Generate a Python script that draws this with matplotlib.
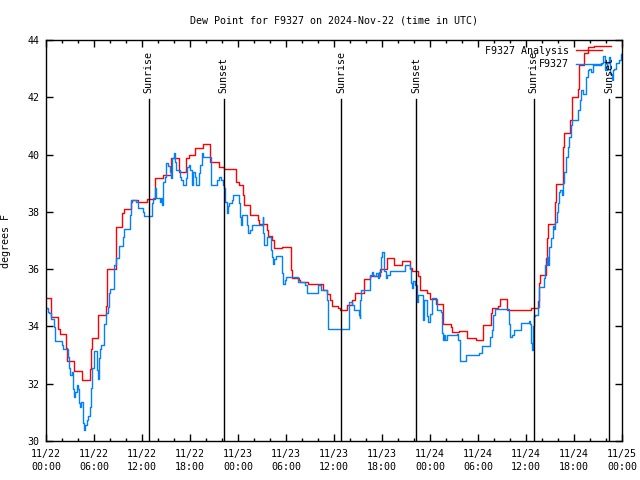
import matplotlib
matplotlib.use('Agg')
import matplotlib.pyplot as plt
import matplotlib.dates as mdates
import numpy as np
from datetime import datetime, timedelta

# hours since 2024-11-22 00:00 UTC, dew point in degrees F
ana_hours = [0.00, 0.63, 1.51, 1.76, 2.51, 2.63, 3.51, 4.52, 5.52, 5.64, 5.68, 6.49, 7.49, 7.56, 7.65,
             8.74, 9.53, 9.70, 10.54, 10.70, 11.45, 12.63, 13.55, 14.59, 15.64, 16.60, 17.52, 17.85,
             18.57, 19.61, 20.53, 21.58, 22.24, 23.71, 24.09, 24.55, 24.75, 25.50, 26.51, 26.63,
             27.56, 27.76, 28.19, 28.48, 29.44, 30.57, 30.77, 31.61, 31.74, 32.78, 34.66, 35.09,
             35.50, 35.79, 36.54, 36.75, 37.60, 38.22, 38.64, 39.68, 40.52, 41.77, 42.61, 43.44,
             44.50, 45.45, 45.75, 46.45, 46.70, 47.63, 48.04, 48.67, 49.64, 50.55, 50.77, 51.59,
             52.65, 53.69, 54.60, 55.57, 55.78, 56.49, 56.74, 57.66, 60.59, 61.50, 61.65, 61.75,
             62.47, 62.60, 62.76, 63.60, 63.73, 64.57, 64.77, 65.52, 65.69, 66.45, 66.65, 67.28,
             67.70, 68.53, 70.62]
ana_vals = [35.0, 34.33, 33.9, 33.74, 33.25, 32.8, 32.45, 32.13, 32.5, 33.2, 33.6, 34.4, 34.7, 35.3, 36.0,
            37.46, 37.95, 38.09, 38.33, 38.4, 38.33, 38.44, 39.17, 39.29, 39.87, 39.4, 39.87, 40.0,
            40.24, 40.36, 39.73, 39.58, 39.49, 39.03, 38.94, 38.59, 38.24, 37.9, 37.72, 37.58,
            37.37, 37.17, 37.02, 36.73, 36.78, 35.97, 35.7, 35.62, 35.56, 35.48, 35.27, 35.13,
            34.92, 34.71, 34.63, 34.57, 34.75, 34.92, 35.16, 35.65, 35.76, 36.0, 36.38, 36.15,
            36.3, 36.03, 35.95, 35.77, 35.27, 35.18, 34.95, 34.78, 34.09, 33.97, 33.82, 33.85,
            33.59, 33.53, 34.05, 34.46, 34.63, 34.71, 34.95, 34.57, 34.63, 34.9, 35.5, 35.8,
            36.38, 37.1, 37.58, 38.33, 38.97, 40.28, 40.74, 41.2, 42.02, 42.3, 43.13, 43.53,
            43.76, 43.8, 43.8]

obs_hours = [0.00, 0.16, 0.38, 0.59, 1.00, 1.13, 1.97, 2.13, 2.67, 2.80, 2.97, 3.22, 3.30, 3.47, 3.64,
             3.80, 3.98, 4.05, 4.23, 4.39, 4.55, 4.73, 4.89, 5.06, 5.23, 5.48, 5.61, 5.73, 5.93,
             6.31, 6.44, 6.56, 6.77, 6.90, 7.28, 7.49, 7.69, 7.82, 7.99, 8.53, 8.74, 9.15, 9.57,
             9.70, 10.45, 10.63, 11.25, 11.45, 12.08, 12.21, 13.21, 13.33, 13.55, 13.67, 14.17,
             14.39, 14.46, 14.59, 14.80, 15.02, 15.22, 15.43, 15.64, 15.77, 15.97, 16.14, 16.27,
             16.68, 16.90, 17.10, 17.52, 17.65, 17.85, 18.03, 18.19, 18.35, 18.57, 18.78, 19.10,
             19.28, 19.44, 19.61, 20.66, 21.41, 21.61, 21.83, 22.04, 22.20, 22.37, 22.54, 22.67,
             22.87, 23.17, 23.37, 24.12, 24.21, 24.34, 24.50, 25.05, 25.25, 25.46, 25.68, 27.06,
             27.13, 27.26, 27.63, 28.10, 28.22, 28.31, 28.51, 28.73, 29.44, 29.57, 29.82, 29.98,
             31.52, 32.36, 32.58, 34.03, 34.37, 35.09, 35.29, 37.85, 38.22, 38.42, 39.05, 39.17,
             39.26, 39.39, 40.52, 40.73, 40.85, 41.02, 41.27, 41.43, 41.65, 41.86, 41.99, 42.28,
             42.44, 42.61, 42.94, 44.82, 45.54, 45.66, 45.79, 45.87, 46.16, 46.38, 46.50, 47.13,
             47.29, 47.63, 47.76, 47.92, 48.26, 48.67, 48.89, 49.30, 49.42, 49.55, 49.71, 49.92,
             50.14, 51.39, 51.52, 51.68, 52.47, 54.10, 54.53, 55.53, 55.78, 55.91, 56.07, 57.87,
             57.99, 58.20, 58.49, 59.42, 60.38, 60.50, 60.59, 60.68, 60.80, 60.93, 61.09, 61.50,
             61.63, 62.26, 62.39, 62.60, 62.69, 62.81, 62.89, 63.10, 63.32, 63.44, 63.60, 63.86,
             64.02, 64.14, 64.27, 64.44, 64.57, 64.69, 64.99, 65.24, 65.42, 65.58, 65.79, 66.50,
             66.71, 66.84, 67.06, 67.46, 67.70, 67.90, 68.11, 68.32, 69.36, 69.57, 69.89, 70.11,
             70.32, 70.52, 70.70, 70.86, 71.03, 71.28, 71.46, 71.66, 71.87, 72.00]
obs_vals = [34.63, 34.5, 34.46, 34.25, 33.99, 33.49, 33.35, 33.2, 32.94, 32.54, 32.3, 32.4, 31.8, 31.55, 31.7,
            31.96, 31.8, 31.32, 31.2, 31.35, 30.64, 30.38, 30.56, 30.73, 30.88, 31.2, 31.84, 32.54, 33.15,
            32.48, 32.15, 32.9, 33.21, 33.35, 34.1, 34.46, 34.69, 35.16, 35.3, 36.15, 36.38, 36.8, 37.13,
            37.39, 37.89, 38.41, 38.35, 38.12, 38.0, 37.86, 38.3, 38.47, 38.82, 38.47, 38.35,
            38.47, 38.24, 39.05, 39.23, 39.7, 39.6, 39.4, 39.17, 39.87, 40.04, 39.75, 39.46,
            39.23, 39.1, 38.94, 39.17, 39.58, 39.64, 39.46, 38.94, 39.4, 39.23, 38.94, 39.35,
            39.64, 40.04, 39.93, 38.94, 39.1, 39.23, 39.1, 38.94, 38.82, 38.36, 37.95, 38.2,
            38.3, 38.4, 38.59, 38.3, 37.83, 37.54, 37.89, 37.54, 37.25, 37.37, 37.54, 37.83,
            37.25, 36.84, 37.13, 36.67, 36.43, 36.18, 36.35, 36.46, 35.86, 35.48, 35.62, 35.74,
            35.56, 35.45, 35.18, 35.45, 35.27, 34.92, 33.9, 34.87, 34.75, 34.57, 34.4, 34.28,
            34.92, 35.27, 35.8, 35.91, 35.8, 35.75, 35.85, 35.68, 35.9, 36.43, 36.61, 35.95,
            35.68, 35.8, 35.95, 36.15, 36.0, 35.5, 35.35, 35.6, 35.45, 34.87, 35.1, 34.22,
            34.92, 34.35, 34.16, 34.45, 35.0, 34.95, 34.57, 34.5, 33.76, 33.53, 33.7, 33.53,
            33.7, 33.75, 33.53, 32.8, 33.0, 33.06, 33.32, 33.62, 33.88, 34.4, 34.6, 34.1,
            33.62, 33.7, 33.88, 34.13, 34.2, 34.1, 33.43, 33.18, 34.0, 34.35, 34.4, 34.69,
            35.39, 35.68, 36.15, 36.41, 36.15, 36.5, 36.78, 37.07, 37.51, 37.4, 37.66, 38.0,
            38.3, 38.71, 38.76, 38.6, 39.0, 39.4, 39.93, 40.28, 40.63, 41.03, 41.2, 41.56,
            41.9, 42.25, 42.1, 42.72, 42.95, 43.0, 42.9, 43.13, 43.18, 43.44, 42.95, 43.18,
            43.4, 42.8, 42.6, 42.95, 43.0, 43.18, 43.2, 43.3, 43.5, 43.55]

sun_hours = [12.79, 22.20, 36.88, 46.29, 60.97, 70.38]
sun_labels = ['Sunrise', 'Sunset', 'Sunrise', 'Sunset', 'Sunrise', 'Sunset']

t0 = datetime(2024, 11, 22)
def to_time(hours):
    return [t0 + timedelta(hours=h) for h in hours]

plt.rcParams['font.family'] = 'DejaVu Sans Mono'
plt.rcParams['font.size'] = 7.2

fig = plt.figure(figsize=(6.4, 4.8), dpi=100)
ax = fig.add_axes([0.0723, 0.08125, 0.8997, 0.8354])

ax.plot(to_time(ana_hours), ana_vals, drawstyle='steps-post', color='#ff0000', lw=1, label='F9327 Analysis')
ax.plot(to_time(obs_hours), obs_vals, drawstyle='steps-post', color='#0080ff', lw=1, label='F9327')

for h, lab in zip(sun_hours, sun_labels):
    t = t0 + timedelta(hours=h)
    ax.plot([t, t], [30, 41.95], color='black', lw=1)
    ax.text(t, 42.15, lab, rotation=90, ha='center', va='bottom', fontsize=7.2)

ax.set_xlim(t0, t0 + timedelta(hours=72))
ax.set_ylim(30, 44)
ax.set_yticks(np.arange(30, 45, 2))
ax.xaxis.set_major_locator(mdates.HourLocator(byhour=[0, 6, 12, 18]))
ax.xaxis.set_minor_locator(mdates.HourLocator(byhour=range(0, 24, 2)))
ax.xaxis.set_major_formatter(mdates.DateFormatter('%m/%d\n%H:%M'))
ax.tick_params(which='major', direction='in', length=5, width=1, top=True, right=True, pad=5)
ax.tick_params(which='minor', direction='in', length=2.5, width=1, top=True)
ax.tick_params(axis='x', which='major', pad=6)
for lbl in ax.get_xticklabels():
    lbl.set_linespacing(1.35)
for s in ax.spines.values():
    s.set_linewidth(1)

ax.set_title('Dew Point for F9327 on 2024-Nov-22 (time in UTC)', fontsize=7.2, pad=12)
ax.set_ylabel('degrees F')
ax.yaxis.set_label_coords(-0.062, 0.5)

ax.legend(loc='upper right', bbox_to_anchor=(0.974, 1.0), frameon=False, markerfirst=False,
          handlelength=2.6, handletextpad=0.7, labelspacing=0.35, borderaxespad=0.15, fontsize=7.2)

plt.savefig('out.png', dpi=100)
